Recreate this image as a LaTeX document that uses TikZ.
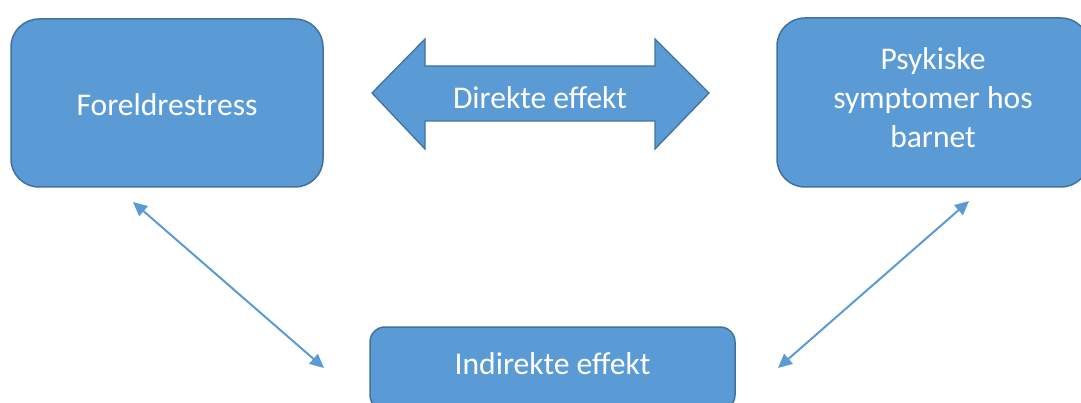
\documentclass[tikz,border=0pt]{standalone}
\usepackage{fontspec}
\setmainfont{Carlito}
\usetikzlibrary{arrows.meta}
\definecolor{boxfill}{HTML}{5B9BD5}
\definecolor{boxline}{HTML}{41719C}
\tikzset{
  every node/.style={font=\fontsize{31.6}{39}\selectfont, text=white},
  box/.style={draw=boxline, fill=boxfill, line width=1.5pt},
  link/.style={draw=boxfill, line width=2pt,
    {Triangle[length=14pt,width=13pt]}-{Triangle[length=14pt,width=13pt]}},
}
\begin{document}
\begin{tikzpicture}[x=1pt,y=-1pt]
\useasboundingbox (0,0) rectangle (1081,403);
\begin{scope}
\clip (0,0) rectangle (1081,403);
% three rounded boxes
\draw[box, rounded corners=28pt] (11,19) rectangle (323,187);
\draw[box, rounded corners=28pt] (777,18) rectangle (1089,187);
\draw[box, rounded corners=15pt] (370,327) rectangle (735,410);
\end{scope}
\node (parent) at (167,105) {Foreldrestress};
\node[align=center] (child) at (933,98) {Psykiske\\symptomer hos\\barnet};
\node (indirect) at (552.5,364) {Indirekte effekt};
% broad double arrow
\draw[box, line width=1.3pt] (372,93) -- (425,39) -- (425,66) -- (655,66) -- (655,39)
  -- (709,93) -- (655,149) -- (655,121) -- (425,121) -- (425,149) -- cycle;
\node (direct) at (540,98) {Direkte effekt};
% thin connectors to the lower box
\coordinate (l1) at (133,202);
\coordinate (l2) at (324,368);
\coordinate (r1) at (778,368);
\coordinate (r2) at (969,201);
\draw[link] (l1) -- (l2);
\draw[link] (r1) -- (r2);
\end{tikzpicture}
\end{document}
